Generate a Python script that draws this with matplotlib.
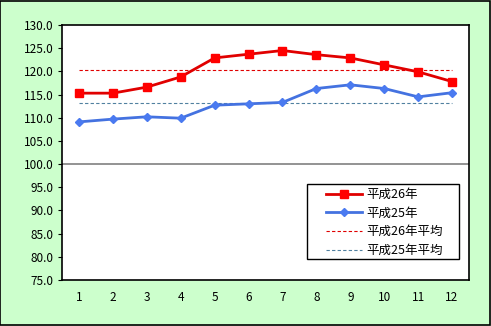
import matplotlib
matplotlib.use("Agg")
import matplotlib.pyplot as plt
from matplotlib.patches import Rectangle

plt.rcParams['font.family'] = ['Noto Sans CJK JP', 'DejaVu Sans']

months = list(range(1, 13))
h26 = [115.3, 115.3, 116.6, 118.8, 122.9, 123.7, 124.5, 123.6, 122.9, 121.4, 119.9, 117.8]
h25 = [109.1, 109.7, 110.2, 109.9, 112.7, 113.0, 113.3, 116.3, 117.1, 116.3, 114.5, 115.4]
avg26 = 120.2
avg25 = 113.1
yticks = [75.0 + 5 * i for i in range(12)]
labels = ['平成26年', '平成25年', '平成26年平均', '平成25年平均']

fig = plt.figure(figsize=(4.91, 3.26), dpi=100, facecolor='#CCFFCC')
fig.patches.append(Rectangle((0.001, 0.002), 0.997, 0.995, transform=fig.transFigure,
                             fill=False, edgecolor='black', linewidth=1.2))
W, H = 491, 326
ax = fig.add_axes([62 / W, 1 - 280 / H, (469 - 62) / W, (280 - 25) / H])
ax.set_facecolor('white')

ax.axhline(100, color='#808080', linewidth=1.2, zorder=1)
l1, = ax.plot(months, h26, color='#E00000', linewidth=2, marker='s', markersize=5.5,
              markerfacecolor='#FF0000', markeredgecolor='#FF0000', zorder=4)
l2, = ax.plot(months, h25, color='#4472E0', linewidth=2, marker='D', markersize=4,
              markerfacecolor='#4A7AF0', markeredgecolor='#4A7AF0', zorder=3)
l3, = ax.plot([months[0], months[-1]], [avg26, avg26], color='#E00000', linewidth=0.8,
              linestyle=(0, (3, 2)), zorder=2)
l4, = ax.plot([months[0], months[-1]], [avg25, avg25], color='#5080A0', linewidth=0.8,
              linestyle=(0, (3, 2)), zorder=2)

ax.set_xlim(0.5, 12.5)
ax.set_ylim(75, 130)
ax.set_yticks(yticks)
ax.set_yticklabels([f'{v:.1f}' for v in yticks], fontsize=8.5)
ax.set_xticks(months)
ax.set_xticklabels([str(m) for m in months], fontsize=8.5)
ax.tick_params(axis='y', direction='out', length=3, width=0.8, pad=3)
ax.tick_params(axis='x', length=0, pad=8)
for s in ax.spines.values():
    s.set_linewidth(1.2)
    s.set_color('black')

# legend frame drawn separately (wider padding than matplotlib's)
x0, x1 = (307 - 62) / 407, (459 - 62) / 407
y0, y1 = (280 - 259) / 255, (280 - 184) / 255
ax.add_patch(Rectangle((x0, y0), x1 - x0, y1 - y0, transform=ax.transAxes,
                       facecolor='white', edgecolor='black', linewidth=1.0, zorder=5))
leg = ax.legend([l1, l2, l3, l4], labels, loc='upper left',
                bbox_to_anchor=((326 - 62) / 407, (280 - 188) / 255),
                fontsize=9, frameon=False, handlelength=2.9,
                borderpad=0.0, labelspacing=0.45, handletextpad=0.3, borderaxespad=0)
leg.set_zorder(6)

fig.savefig('out.png', dpi=100, facecolor=fig.get_facecolor())
